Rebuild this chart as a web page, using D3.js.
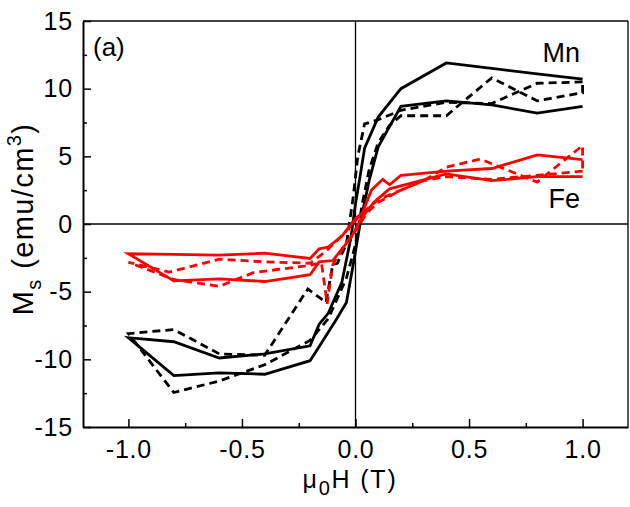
<!DOCTYPE html>
<html lang="en">
<head>
<meta charset="UTF-8">
<title>Ms vs field</title>
<script src="https://cdn.jsdelivr.net/npm/d3@7"></script>
<style>
body {
	margin: 0;
	background: #fff;
	font-family: "Liberation Sans", Arial, sans-serif;
}
svg text {
	font-family: "Liberation Sans", Arial, sans-serif;
	fill: #000;
}
.loop {
	fill: none;
	stroke-width: 2.8px;
	stroke-linejoin: miter;
}
</style>
</head>
<body>
<svg width="630" height="507"></svg>
<script>
// hysteresis loops, [mu0H (T), Ms (emu/cm3)]
var mnSolid = [
	[1.0, 10.7], [0.8, 11.1], [0.6, 11.5], [0.4, 11.9], [0.2, 10.0], [0.1, 7.9],
	[0.04, 5.6], [0.02, 3.5], [0.0, 1.5], [-0.02, -1.0], [-0.06, -4.3], [-0.12, -6.6],
	[-0.16, -7.4], [-0.2, -9.0], [-0.4, -9.6], [-0.6, -9.9], [-0.8, -8.7], [-1.0, -8.4],
	[-0.8, -11.2], [-0.6, -11.0], [-0.4, -11.1], [-0.2, -10.1], [-0.15, -8.8], [-0.09, -7.2],
	[-0.04, -5.8], [-0.01, -3.0], [0.02, 0.0], [0.06, 3.2], [0.1, 5.7], [0.2, 8.7],
	[0.4, 9.1], [0.6, 8.8], [0.8, 8.2], [1.0, 8.7]
];
var mnDashed = [
	[1.0, 10.5], [0.8, 10.4], [0.6, 8.9], [0.4, 9.0], [0.2, 8.4], [0.1, 7.7],
	[0.04, 7.4], [0.01, 5.0], [-0.01, 2.0], [-0.04, -1.5], [-0.08, -2.9], [-0.1, -3.0],
	[-0.13, -5.8], [-0.21, -4.8], [-0.4, -9.7], [-0.6, -9.6], [-0.8, -7.8], [-1.0, -8.1],
	[-0.8, -12.45], [-0.6, -11.6], [-0.4, -10.4], [-0.2, -8.6], [-0.12, -7.0], [-0.08, -5.5],
	[-0.04, -4.0], [0.0, -1.5], [0.03, 1.5], [0.06, 4.0], [0.1, 6.0], [0.15, 7.3],
	[0.2, 8.0], [0.4, 8.0], [0.6, 10.8], [0.8, 9.1], [1.0, 9.7], [1.0, 10.5]
];
var feSolid = [
	[1.0, 4.75], [0.8, 5.1], [0.6, 4.1], [0.4, 3.9], [0.2, 3.6], [0.15, 2.9],
	[0.12, 3.3], [0.07, 2.5], [0.03, 0.8], [0.0, 0.4], [-0.06, -0.9], [-0.12, -1.7],
	[-0.16, -1.84], [-0.2, -2.55], [-0.4, -2.16], [-0.6, -2.3], [-0.8, -2.25], [-1.0, -2.2],
	[-0.8, -4.2], [-0.6, -4.05], [-0.4, -4.25], [-0.2, -3.75], [-0.16, -2.8], [-0.1, -2.7],
	[-0.02, -1.0], [0.03, 0.5], [0.08, 1.6], [0.15, 2.6], [0.4, 3.7], [0.6, 3.2],
	[0.8, 3.5], [1.0, 3.5]
];
var feDashed = [
	[1.0, 3.9], [0.8, 3.6], [0.6, 3.3], [0.4, 3.5], [0.3, 3.2], [0.2, 2.5],
	[0.1, 1.8], [0.03, 0.8], [-0.03, -0.3], [-0.08, -1.2], [-0.13, -2.0], [-0.2, -2.9],
	[-0.4, -2.8], [-0.6, -2.6], [-0.82, -3.55], [-1.0, -2.83], [-0.8, -4.1], [-0.6, -4.6],
	[-0.45, -3.6], [-0.2, -3.05], [-0.15, -2.85], [-0.125, -5.9], [-0.1, -3.0], [-0.05, -1.6],
	[0.0, -0.5], [0.05, 0.8], [0.1, 1.6], [0.2, 2.5], [0.3, 3.2], [0.4, 4.2],
	[0.55, 4.8], [0.8, 3.1], [1.0, 5.8], [1.0, 3.9]
];

var xTicks = [-1.0, -0.5, 0.0, 0.5, 1.0];
var xMinor = [-0.75, -0.25, 0.25, 0.75];
var yTicks = [-15, -10, -5, 0, 5, 10, 15];
var yMinor = [-12.5, -7.5, -2.5, 2.5, 7.5, 12.5];

var svg = d3.select("svg"),
	margin = {top: 21, right: 2, bottom: 80, left: 83},
	width = +svg.attr("width") - margin.left - margin.right,
	height = +svg.attr("height") - margin.top - margin.bottom;

var x = d3.scaleLinear().domain([-1.2, 1.2]).range([0, width]);
var y = d3.scaleLinear().domain([-15, 15]).range([height, 0]);

// plain hyphen for negatives, like the original figure
var fmt = function(f) {
	return function(d) { return d3.format(f)(d).replace("\u2212", "-"); };
};

var g = svg.append("g").attr("transform", "translate(" + margin.left + "," + margin.top + ")");

// zero lines
g.append("line")
	.attr("x1", x(0)).attr("x2", x(0)).attr("y1", 0).attr("y2", height)
	.attr("stroke", "#000").attr("stroke-width", 1.3);
g.append("line")
	.attr("x1", 0).attr("x2", width).attr("y1", y(0)).attr("y2", y(0))
	.attr("stroke", "#000").attr("stroke-width", 1.3);

var line = d3.line()
	.x(function(d) { return x(d[0]); })
	.y(function(d) { return y(d[1]); });

var loops = [
	{data: mnSolid, color: "#000", dash: null},
	{data: mnDashed, color: "#000", dash: "8,5"},
	{data: feSolid, color: "#ff0000", dash: null},
	{data: feDashed, color: "#ff0000", dash: "8,5"}
];
loops.forEach(function(l) {
	g.append("path")
		.datum(l.data)
		.attr("class", "loop")
		.attr("stroke", l.color)
		.attr("stroke-dasharray", l.dash)
		.attr("d", line);
});

// frame
g.append("line").attr("x1", 0).attr("x2", width).attr("y1", 0).attr("y2", 0)
	.attr("stroke", "#000").attr("stroke-width", 1.3);
g.append("line").attr("x1", width).attr("x2", width).attr("y1", 0).attr("y2", height)
	.attr("stroke", "#000").attr("stroke-width", 1.3);

// axes, ticks inside
var xAxis = g.append("g")
	.attr("transform", "translate(0," + height + ")")
	.call(d3.axisBottom(x).tickValues(xTicks).tickSizeInner(-8).tickSizeOuter(0).tickPadding(13)
		.tickFormat(fmt(".1f")));
g.append("g")
	.attr("transform", "translate(0," + height + ")")
	.call(d3.axisBottom(x).tickValues(xMinor).tickSize(-4).tickFormat(""))
	.select(".domain").remove();

var yAxis = g.append("g")
	.call(d3.axisLeft(y).tickValues(yTicks).tickSizeInner(-8).tickSizeOuter(0).tickPadding(10)
		.tickFormat(fmt("d")));
g.append("g")
	.call(d3.axisLeft(y).tickValues(yMinor).tickSize(-4).tickFormat(""))
	.select(".domain").remove();

svg.selectAll(".domain").attr("stroke-width", 2);
svg.selectAll(".tick line").attr("stroke-width", 1.5);
svg.selectAll(".tick text").style("font-size", "25px").style("letter-spacing", "0.8px");

// labels
g.append("text").attr("x", 10).attr("y", 35).style("font-size", "26px").text("(a)");
g.append("text").attr("x", 497).attr("y", 41).style("font-size", "27px")
	.attr("text-anchor", "end").text("Mn");
g.append("text").attr("x", 497).attr("y", 187).style("font-size", "27px")
	.attr("text-anchor", "end").text("Fe");

// axis titles
var xt = svg.append("text")
	.attr("x", 350).attr("y", 488)
	.attr("text-anchor", "middle")
	.style("font-size", "25px")
	.style("letter-spacing", "1.8px");
xt.append("tspan").text("\u03bc");
xt.append("tspan").attr("dy", 7).style("font-size", "20px").text("0");
xt.append("tspan").attr("dy", -7).text("H (T)");

var yt = svg.append("text")
	.attr("transform", "translate(33,219) rotate(-90)")
	.attr("text-anchor", "middle")
	.style("font-size", "29px")
	.style("letter-spacing", "1.4px");
yt.append("tspan").text("M");
yt.append("tspan").attr("dy", 8).style("font-size", "20px").text("s");
yt.append("tspan").attr("dy", -8).text(" (emu/cm");
yt.append("tspan").attr("dy", -12).style("font-size", "20px").text("3");
yt.append("tspan").attr("dy", 12).text(")");
</script>
</body>
</html>
